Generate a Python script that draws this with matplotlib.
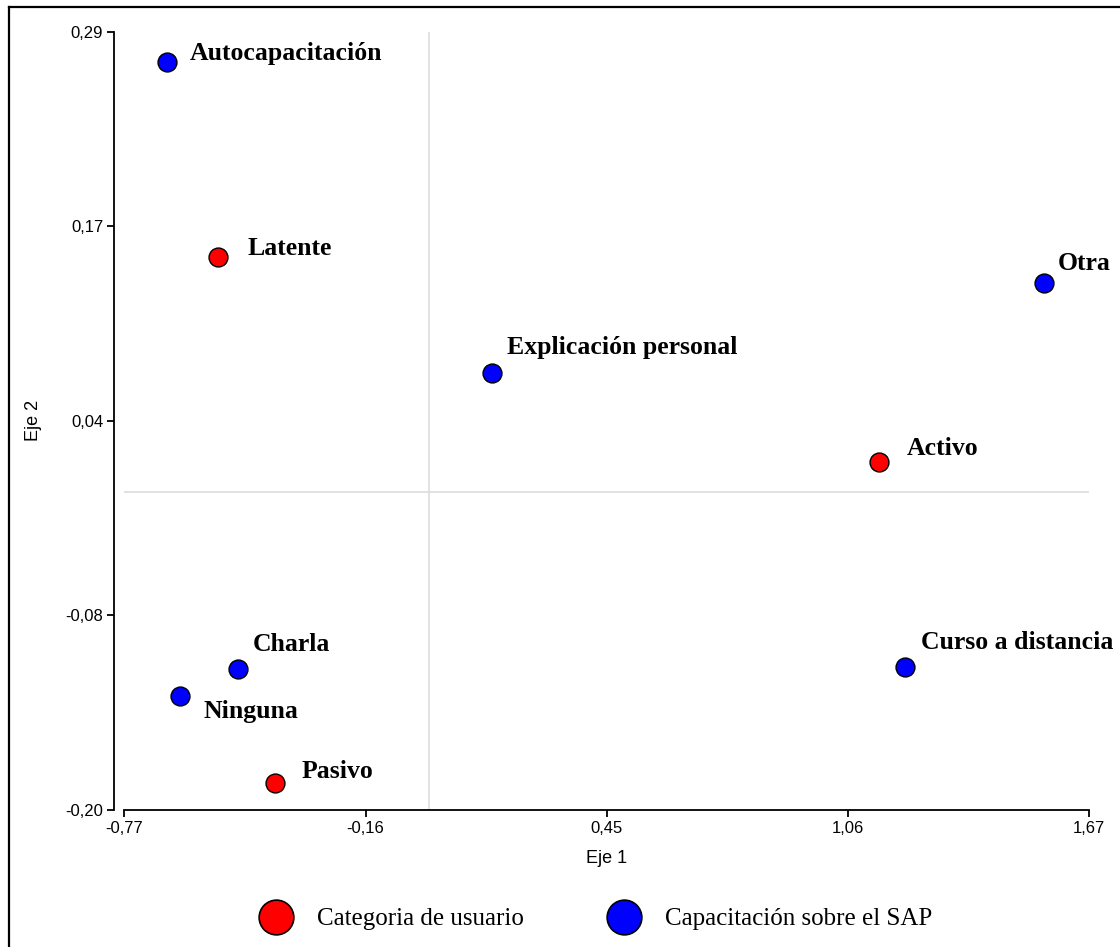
import matplotlib
matplotlib.use("Agg")
import matplotlib.pyplot as plt
from matplotlib.lines import Line2D
import numpy as np

# ---- data ----
user_labels = ["Latente", "Activo", "Pasivo"]
user_x = [-0.532, 1.139, -0.388]
user_y = [0.148, 0.019, -0.183]

train_labels = ["Autocapacitación", "Explicación personal", "Otra",
                "Curso a distancia", "Charla", "Ninguna"]
train_x = [-0.662, 0.159, 1.556, 1.204, -0.482, -0.628]
train_y = [0.271, 0.075, 0.132, -0.110, -0.111, -0.128]

x_ticks = [-0.77, -0.16, 0.45, 1.06, 1.67]
x_ticklabels = ["-0,77", "-0,16", "0,45", "1,06", "1,67"]
y_ticks = list(np.linspace(-0.20, 0.29, 5))
y_ticklabels = ["-0,20", "-0,08", "0,04", "0,17", "0,29"]

legend_labels = ["Categoria de usuario", "Capacitación sobre el SAP"]

# label offsets in pixels (dx, dy up)
label_offsets = {
    "Latente": (29, 2), "Activo": (27, 7), "Pasivo": (26, 5),
    "Autocapacitación": (23, 2), "Explicación personal": (15, 19),
    "Otra": (14, 13), "Curso a distancia": (16, 18),
    "Charla": (15, 18), "Ninguna": (23, -22),
}

W, H = 1120, 947
fig = plt.figure(figsize=(W / 100, H / 100), dpi=100)
ax = fig.add_axes([124.3 / W, 1 - 810 / H, 965 / W, 778.3 / H])

ax.set_xlim(-0.77, 1.67)
ax.set_ylim(-0.20, 0.29)

ax.axhline(0, color="#dddddd", lw=1.2, zorder=1)
ax.axvline(0, color="#dddddd", lw=1.2, zorder=1)

red = "#ff0000"
blue = "#0000ff"
ax.scatter(user_x, user_y, s=185, c=red, edgecolors="black", linewidths=1.0, zorder=3, clip_on=False)
ax.scatter(train_x, train_y, s=185, c=blue, edgecolors="black", linewidths=1.0, zorder=3, clip_on=False)

lab_font = dict(family="Liberation Serif", fontsize=18.5, fontweight="bold")
for lbl, xv, yv in list(zip(user_labels, user_x, user_y)) + list(zip(train_labels, train_x, train_y)):
    dx, dy = label_offsets[lbl]
    ax.annotate(lbl, (xv, yv), xytext=(dx * 0.72, dy * 0.72), textcoords="offset points",
                ha="left", va="baseline", annotation_clip=False, **lab_font)

for s in ["top", "right"]:
    ax.spines[s].set_visible(False)
ax.spines["left"].set_position(("outward", 7.2))
ax.spines["left"].set_linewidth(1.3)
ax.spines["bottom"].set_linewidth(1.3)

ax.set_xticks(x_ticks)
ax.set_xticklabels(x_ticklabels, family="Liberation Sans", fontsize=12)
ax.set_yticks(y_ticks)
ax.set_yticklabels(y_ticklabels, family="Liberation Sans", fontsize=12)
ax.tick_params(axis="both", direction="out", length=5, width=1.3, pad=3)

ax.set_xlabel("Eje 1", family="Liberation Sans", fontsize=13, labelpad=10)
ax.set_ylabel("Eje 2", family="Liberation Sans", fontsize=13, labelpad=17)

handles = [Line2D([], [], ls="none", marker="o", markersize=25, markerfacecolor=red,
                  markeredgecolor="black", markeredgewidth=1.2),
           Line2D([], [], ls="none", marker="o", markersize=25, markerfacecolor=blue,
                  markeredgecolor="black", markeredgewidth=1.2)]
fig.legend(handles, legend_labels, loc="center", bbox_to_anchor=(595 / W, 1 - 919 / H), ncol=2,
           frameon=False, prop=dict(family="Liberation Serif", size=18),
           handlelength=1.4, handletextpad=0.94, columnspacing=3.3,
           borderpad=0, borderaxespad=0)

# outer frame (left and top edges)
fig.add_artist(Line2D([8.5 / W, 8.5 / W], [0, 1 - 7.5 / H], color="black", lw=1.6, transform=fig.transFigure))
fig.add_artist(Line2D([8.5 / W, 1], [1 - 7.5 / H, 1 - 7.5 / H], color="black", lw=1.6, transform=fig.transFigure))

fig.savefig("out.png", dpi=100)
